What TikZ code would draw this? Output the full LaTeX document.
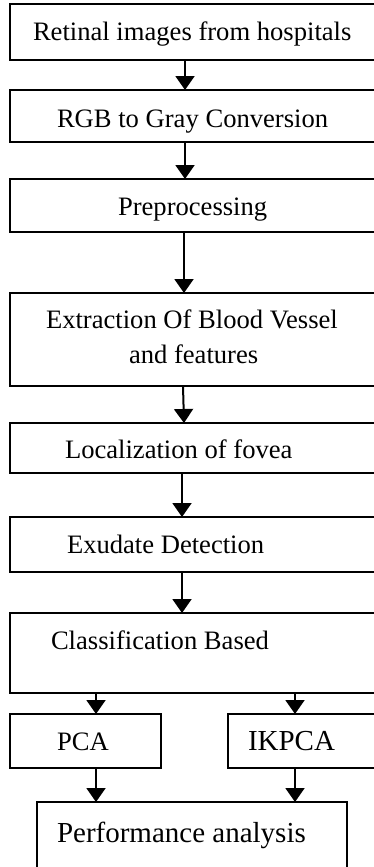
\documentclass[tikz,border=0pt]{standalone}
\usepackage{fontspec}
\setmainfont{Liberation Serif}
\usetikzlibrary{arrows.meta}
\begin{document}
\begin{tikzpicture}[x=1pt,y=-1pt,
  box/.style={draw=black,line width=1.8pt,rectangle,anchor=north west,inner sep=0pt,outer sep=0pt},
  txt/.style={anchor=base west,inner sep=0pt,outer sep=0pt,font=\fontsize{26.6}{30}\selectfont},
  bigtxt/.style={anchor=base west,inner sep=0pt,outer sep=0pt,font=\fontsize{29}{33}\selectfont},
  arr/.style={line width=2pt,-{Triangle[width=19pt,length=14pt]}}]
\useasboundingbox (0,0) rectangle (374,867);
\clip (0,0) rectangle (374,867);
% boxes
\node[box,minimum width=420pt,minimum height=56pt] (b1) at (10,4) {};
\node[box,minimum width=420pt,minimum height=52pt] (b2) at (10,90) {};
\node[box,minimum width=420pt,minimum height=53pt] (b3) at (10,179) {};
\node[box,minimum width=420pt,minimum height=93pt] (b4) at (10,293) {};
\node[box,minimum width=420pt,minimum height=50pt] (b5) at (10,423) {};
\node[box,minimum width=420pt,minimum height=55pt] (b6) at (10,517) {};
\node[box,minimum width=420pt,minimum height=80pt] (b7) at (10,613) {};
\node[box,minimum width=151pt,minimum height=54pt] (pca) at (10,714) {};
\node[box,minimum width=200pt,minimum height=54pt] (ikpca) at (228,714) {};
\node[box,minimum width=310pt,minimum height=100pt] (perf) at (37,802) {};
% texts
\node[txt] (t1) at (33,41) {Retinal images from hospitals};
\node[txt] (t2) at (57,127) {RGB to Gray Conversion};
\node[txt] (t3) at (118,215) {Preprocessing};
\node[txt] (t4a) at (46,328) {Extraction Of Blood Vessel};
\node[txt] (t4b) at (129,363) {and features};
\node[txt] (t5) at (65,458) {Localization of fovea};
\node[txt] (t6) at (67,553) {Exudate Detection};
\node[txt] (t7) at (51,649) {Classification Based};
\node[txt] (t8) at (57,750) {PCA};
\node[bigtxt] (t9) at (248,750) {IKPCA};
\node[bigtxt] (t10) at (57,842) {Performance analysis};
% arrows
\draw[arr] ([xshift=175pt]b1.south west) -- ([xshift=175pt]b2.north west);
\draw[arr] ([xshift=175pt]b2.south west) -- ([xshift=175pt]b3.north west);
\draw[arr] ([xshift=174pt]b3.south west) -- ([xshift=174pt]b4.north west);
\draw[arr] ([xshift=173pt]b4.south west) -- ([xshift=174pt]b5.north west);
\draw[arr] ([xshift=172pt]b5.south west) -- ([xshift=172pt]b6.north west);
\draw[arr] ([xshift=172pt]b6.south west) -- ([xshift=172pt]b7.north west);
\draw[arr] ([xshift=86pt]b7.south west) -- ([xshift=86pt]pca.north west);
\draw[arr] ([xshift=285pt]b7.south west) -- ([xshift=67pt]ikpca.north west);
\draw[arr] ([xshift=86pt]pca.south west) -- ([xshift=59pt]perf.north west);
\draw[arr] ([xshift=67pt]ikpca.south west) -- ([xshift=258pt]perf.north west);
\end{tikzpicture}
\end{document}
